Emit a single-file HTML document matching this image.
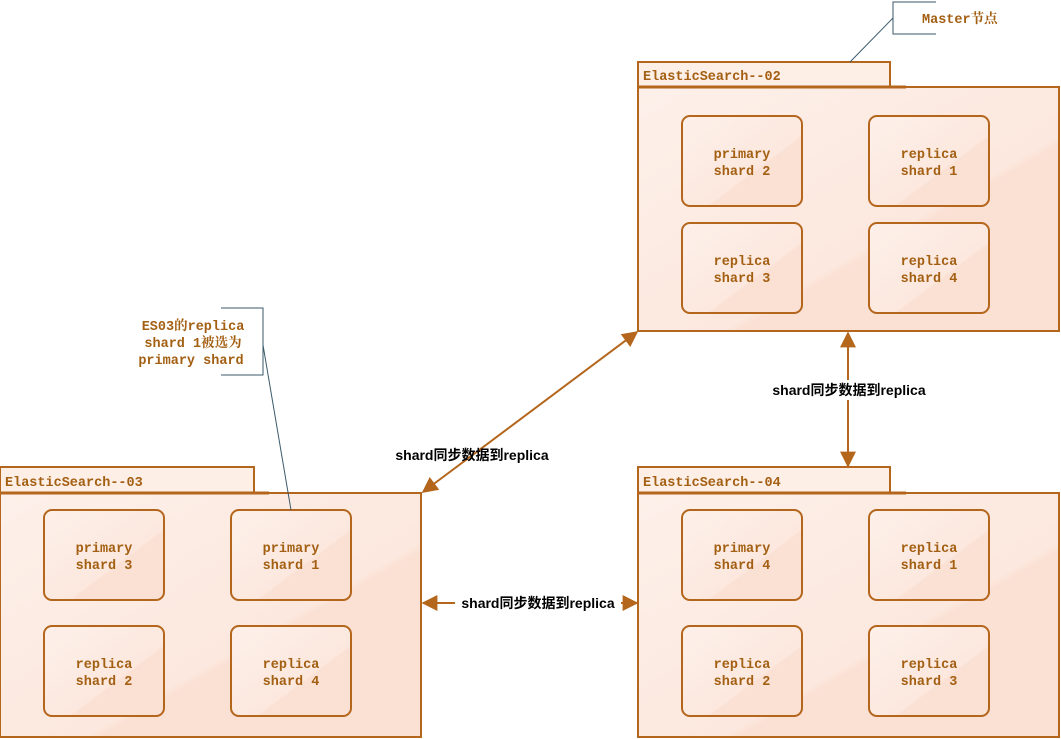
<!DOCTYPE html>
<html><head><meta charset="utf-8"><style>
html,body{margin:0;padding:0;background:#fff;width:1061px;height:739px;overflow:hidden}
svg{display:block}
.t{font-family:"Liberation Mono","Noto Serif CJK SC",monospace;font-weight:bold;font-size:13.5px;fill:#a35f12}
.l{font-family:"Liberation Sans","Noto Sans CJK SC",sans-serif;font-weight:bold;font-size:14px;fill:#000}
</style></head><body>
<svg width="1061" height="739" viewBox="0 0 1061 739" xmlns="http://www.w3.org/2000/svg">
<defs>
<linearGradient id="g" x1="0" y1="0" x2="1" y2="1">
<stop offset="0" stop-color="#fdf0ea"/><stop offset="0.6" stop-color="#fce8de"/><stop offset="0.62" stop-color="#fbe0d4"/><stop offset="1" stop-color="#fbe0d4"/></linearGradient>
<marker id="a" viewBox="0 0 10 10" refX="9" refY="5" markerWidth="8" markerHeight="8" orient="auto-start-reverse"><path d="M0,0 L10,5 L0,10 z" fill="#b4661c"/></marker>
</defs>
<g stroke="#b4661c" stroke-width="2">
<!-- ES02 -->
<rect x="638" y="62" width="252" height="25" fill="#fdeee6"/>
<rect x="638" y="87" width="421" height="244" fill="url(#g)"/>
<line x1="638" y1="87" x2="906" y2="87" stroke-width="3"/>
<rect x="682" y="116" width="120" height="90" rx="8" fill="url(#g)"/>
<rect x="869" y="116" width="120" height="90" rx="8" fill="url(#g)"/>
<rect x="682" y="223" width="120" height="90" rx="8" fill="url(#g)"/>
<rect x="869" y="223" width="120" height="90" rx="8" fill="url(#g)"/>
<!-- ES03 -->
<rect x="0" y="467" width="254" height="26" fill="#fdeee6"/>
<rect x="0" y="493" width="421" height="244" fill="url(#g)"/>
<line x1="0" y1="493" x2="269" y2="493" stroke-width="3"/>
<rect x="44" y="510" width="120" height="90" rx="8" fill="url(#g)"/>
<rect x="231" y="510" width="120" height="90" rx="8" fill="url(#g)"/>
<rect x="44" y="626" width="120" height="90" rx="8" fill="url(#g)"/>
<rect x="231" y="626" width="120" height="90" rx="8" fill="url(#g)"/>
<!-- ES04 -->
<rect x="638" y="467" width="252" height="26" fill="#fdeee6"/>
<rect x="638" y="493" width="421" height="244" fill="url(#g)"/>
<line x1="638" y1="493" x2="906" y2="493" stroke-width="3"/>
<rect x="682" y="510" width="120" height="90" rx="8" fill="url(#g)"/>
<rect x="869" y="510" width="120" height="90" rx="8" fill="url(#g)"/>
<rect x="682" y="626" width="120" height="90" rx="8" fill="url(#g)"/>
<rect x="869" y="626" width="120" height="90" rx="8" fill="url(#g)"/>
<!-- arrows -->
<line x1="423" y1="492" x2="637" y2="332" marker-start="url(#a)" marker-end="url(#a)"/>
<line x1="848" y1="333" x2="848" y2="466" marker-start="url(#a)" marker-end="url(#a)"/>
<line x1="423" y1="603" x2="637" y2="603" marker-start="url(#a)" marker-end="url(#a)"/>
</g>
<!-- callouts -->
<g stroke="#3b5a6a" stroke-width="1" fill="none">
<polyline points="936,2 893,2 893,34 936,34"/>
<line x1="893" y1="18" x2="850" y2="62"/>
<polyline points="221,308 263,308 263,375 221,375"/>
<line x1="263" y1="345" x2="291" y2="510"/>
</g>
<g class="t">
<text x="922" y="23">Master节点</text>
<text x="643" y="80">ElasticSearch--02</text>
<text x="5" y="486">ElasticSearch--03</text>
<text x="643" y="486">ElasticSearch--04</text>
<g text-anchor="middle">
<text x="193" y="330">ES03的replica</text>
<text x="193" y="347">shard 1被选为</text>
<text x="191" y="364">primary shard</text>
<text x="742" y="158">primary</text><text x="742" y="175">shard 2</text>
<text x="929" y="158">replica</text><text x="929" y="175">shard 1</text>
<text x="742" y="265">replica</text><text x="742" y="282">shard 3</text>
<text x="929" y="265">replica</text><text x="929" y="282">shard 4</text>
<text x="104" y="552">primary</text><text x="104" y="569">shard 3</text>
<text x="291" y="552">primary</text><text x="291" y="569">shard 1</text>
<text x="104" y="668">replica</text><text x="104" y="685">shard 2</text>
<text x="291" y="668">replica</text><text x="291" y="685">shard 4</text>
<text x="742" y="552">primary</text><text x="742" y="569">shard 4</text>
<text x="929" y="552">replica</text><text x="929" y="569">shard 1</text>
<text x="742" y="668">replica</text><text x="742" y="685">shard 2</text>
<text x="929" y="668">replica</text><text x="929" y="685">shard 3</text>
</g>
</g>
<rect x="764" y="380" width="170" height="20" fill="#fff"/>
<rect x="455" y="594" width="166" height="18" fill="#fff"/>
<g class="l" text-anchor="middle">
<text x="472" y="460">shard同步数据到replica</text>
<text x="849" y="395">shard同步数据到replica</text>
<text x="538" y="608">shard同步数据到replica</text>
</g>
</svg>
</body></html>
